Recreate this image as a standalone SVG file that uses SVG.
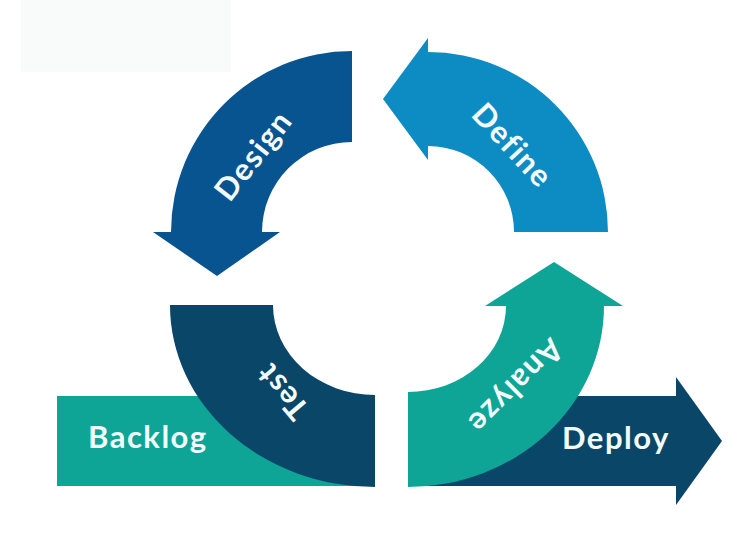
<svg xmlns="http://www.w3.org/2000/svg" width="756" height="544" viewBox="0 0 756 544">
<style>
.lbl{font-family:Lato,"Open Sans","Liberation Sans",sans-serif;font-weight:700;font-size:31px;letter-spacing:1.5px;fill:#f4fbfb}
.c{text-anchor:middle}
.design{fill:#085491}
.define{fill:#0d8cc4}
.navy{fill:#0a4668}
.teal{fill:#0ea596}
</style>
<rect x="0" y="0" width="756" height="544" fill="#ffffff"/>
<rect x="21" y="0" width="210" height="72" fill="#f9fafa"/>
<g id="backlog">
<rect class="teal" x="57" y="396" width="313" height="90"/>
<text class="lbl" x="88" y="448">Backlog</text>
</g>
<g id="deploy">
<path class="navy" d="M410,396 L676,396 L676,377 L722,441 L676,505 L676,486 L410,486 Z"/>
<text class="lbl" x="562" y="449">Deploy</text>
</g>
<g id="design">
<path class="design" d="M352,51 A181 181 0 0 0 171,232 L153,232 L217,276 L280,232 L262,232 A90 90 0 0 1 352,142 Z"/>
<text class="lbl c" transform="translate(254,156) rotate(-52)" x="0" y="10">Design</text>
</g>
<g id="define">
<path class="define" d="M428,52 A180 180 0 0 1 608,232 L514,232 A86 86 0 0 0 428,146 L428,160 L383,99 L428,38 Z"/>
<text class="lbl c" transform="translate(512,146) rotate(47)" x="0" y="10">Define</text>
</g>
<g id="test">
<path class="navy" d="M170,305 L273,305 A102 90 0 0 0 375,395 L375,487 A205 182 0 0 1 170,305 Z"/>
<text class="lbl c" transform="translate(283,391) rotate(230)" x="0" y="10">Test</text>
</g>
<g id="analyze">
<path class="teal" d="M408,487 A196 181 0 0 0 604,306 L623,306 L554,262 L485,306 L506,306 A98 86 0 0 1 408,392 Z"/>
<text class="lbl c" transform="translate(515,386) rotate(135)" x="0" y="10">Analyze</text>
</g>
<g id="connectors"></g>
</svg>
